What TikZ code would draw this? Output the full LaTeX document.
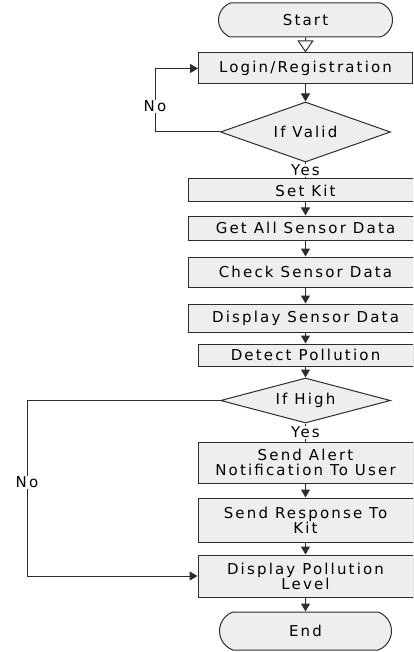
\documentclass[tikz,border=0pt]{standalone}
\usepackage{fontspec}
\newfontfamily\ff{DejaVu Sans}[LetterSpace=14.5]
\usetikzlibrary{arrows.meta,shapes.geometric,shapes.misc}
\definecolor{linegray}{RGB}{45,45,45}
\definecolor{boxfill}{RGB}{238,238,238}
\tikzset{
  base/.style={draw=linegray, line width=1pt, fill=boxfill, inner sep=0pt, align=center,
    text=black, font=\ff\fontsize{15}{15}\selectfont},
  box/.style={base, rectangle},
  term/.style={base, rounded rectangle, rounded rectangle arc length=140},
  dec/.style={base, diamond},
  conn/.style={draw=linegray, line width=1pt},
  arr/.style={conn, -{Triangle[width=9pt,length=8pt]}},
  openarr/.style={conn, -{Triangle[open,width=16pt,length=12pt,fill=white]}},
  lab/.style={fill=white, inner sep=1pt, text=black, font=\ff\fontsize{15}{15}\selectfont},
}
\begin{document}
\begin{tikzpicture}[x=1pt,y=-1pt]
\clip (0,0) rectangle (413,652);
\fill[white] (0,0) rectangle (413,652);

\node[term, minimum width=174pt, minimum height=34pt] (start) at (305.5,20) {Start};
\node[box, minimum width=214pt, minimum height=31pt] (login) at (305.5,68.5) {Login/Registration};
\node[dec, shape aspect=2.8, minimum width=170pt, minimum height=60pt] (valid) at (305.5,132) {If Valid};
\node[box, minimum width=235pt, minimum height=23pt] (setkit) at (305.5,190.5) {Set Kit};
\node[box, minimum width=235pt, minimum height=24pt] (getall) at (305.5,228) {Get All Sensor Data};
\node[box, minimum width=235pt, minimum height=30pt] (check) at (305.5,272) {Check Sensor Data};
\node[box, minimum width=235pt, minimum height=28pt] (dsensor) at (305.5,318) {Display Sensor Data};
\node[box, minimum width=215pt, minimum height=22pt] (detect) at (305.5,355) {Detect Pollution};
\node[dec, shape aspect=3.8, minimum width=170pt, minimum height=45pt] (high) at (305.5,400.5) {If High};
\node[box, minimum width=215pt, minimum height=41pt] (alert) at (305.5,462.5) {Send Alert\\Notification To User};
\node[box, minimum width=215pt, minimum height=44pt] (resp) at (305.5,520) {Send Response To\\Kit};
\node[box, minimum width=215pt, minimum height=42pt] (level) at (305.5,576) {Display Pollution\\Level};
\node[term, minimum width=172pt, minimum height=38pt] (end) at (305.5,631) {End};

\draw[openarr] (start) -- (login);
\draw[arr] (login) -- (valid);
\draw[conn] (valid) -- (setkit) node[lab, midway] {Yes};
\draw[arr] (valid.west) -- ++(-65,0) |- (login.west) node[lab, pos=0.2] {No};
\draw[arr] (setkit) -- (getall);
\draw[arr] (getall) -- (check);
\draw[arr] (check) -- (dsensor);
\draw[arr] (dsensor) -- (detect);
\draw[arr] (detect) -- (high);
\draw[conn] (high) -- (alert) node[lab, midway] {Yes};
\draw[arr] (high.west) -- (27,400.5) |- (level.west) node[lab, pos=0.233] {No};
\draw[arr] (alert) -- (resp);
\draw[arr] (resp) -- (level);
\draw[arr] (level) -- (end);
\end{tikzpicture}
\end{document}
